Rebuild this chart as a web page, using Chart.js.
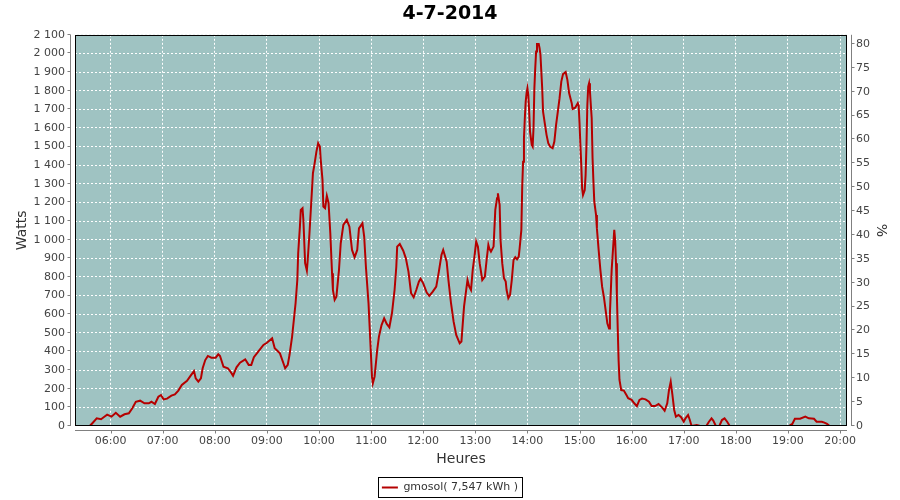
<!DOCTYPE html>
<html>
<head>
<meta charset="utf-8">
<title>4-7-2014</title>
<script src="https://cdn.jsdelivr.net/npm/chart.js@4.4.1/dist/chart.umd.min.js"></script>
<style>
  html, body { margin: 0; padding: 0; background: #fff; }
  #wrap { width: 900px; height: 500px; }
</style>
</head>
<body>
<div id="wrap"><canvas id="powerChart" width="900" height="500"></canvas></div>
<script>
// production du 4-7-2014, relevé (heure -> watts)
const sampleTimes = [
  '05:36','05:39','05:44','05:49','05:52','05:56','06:01','06:06','06:11','06:16',
  '06:21','06:25','06:29','06:34','06:39','06:44','06:47','06:51','06:55','06:58',
  '07:01','07:05','07:10','07:14','07:18','07:22','07:28','07:32','07:36','07:38',
  '07:41','07:44','07:46','07:49','07:52','07:56','08:01','08:04','08:06','08:10',
  '08:15','08:18','08:21','08:25','08:29','08:35','08:39','08:42','08:45','08:50',
  '08:56','09:00','09:06','09:09','09:12','09:15','09:19','09:21','09:24','09:26',
  '09:29','09:31','09:33','09:35','09:36','09:38','09:39','09:41','09:42','09:44',
  '09:46','09:47','09:49','09:51','09:53','09:55','09:57','09:59','10:01','10:02',
  '10:04','10:05','10:07','10:09','10:11','10:13','10:15','10:16','10:18','10:20',
  '10:23','10:25','10:28','10:32','10:35','10:38','10:41','10:44','10:46','10:50',
  '10:52','10:54','10:57','10:59','11:01','11:02','11:04','11:07','11:09','11:12',
  '11:15','11:18','11:21','11:24','11:27','11:29','11:30','11:33','11:37','11:40',
  '11:43','11:46','11:49','11:52','11:55','11:57','12:00','12:04','12:07','12:11',
  '12:15','12:18','12:21','12:23','12:27','12:29','12:32','12:35','12:38','12:42',
  '12:44','12:45','12:47','12:49','12:51','12:53','12:55','12:57','12:59','13:01',
  '13:03','13:05','13:08','13:11','13:13','13:15','13:16','13:18','13:21','13:23',
  '13:25','13:26','13:28','13:29','13:31','13:33','13:35','13:36','13:38','13:40',
  '13:42','13:44','13:46','13:48','13:50','13:51','13:53','13:54','13:55','13:56',
  '13:57','13:58','13:59','14:00','14:01','14:02','14:03','14:05','14:06','14:07',
  '14:08','14:09','14:10','14:11','14:13','14:14','14:15','14:16','14:17','14:18',
  '14:20','14:22','14:24','14:26','14:29','14:31','14:33','14:35','14:37','14:39',
  '14:41','14:44','14:46','14:48','14:51','14:52','14:55','14:58','14:59','15:00',
  '15:01','15:02','15:03','15:04','15:06','15:07','15:08','15:09','15:10','15:11',
  '15:12','15:14','15:15','15:16','15:17','15:19','15:20','15:22','15:24','15:26',
  '15:28','15:30','15:32','15:34','15:35','15:37','15:39','15:40','15:41','15:42',
  '15:43','15:44','15:45','15:46','15:48','15:51','15:54','15:56','16:00','16:03',
  '16:06','16:09','16:12','16:16','16:20','16:23','16:27','16:31','16:35','16:38',
  '16:41','16:43','16:45','16:47','16:49','16:51','16:54','16:57','17:00','17:02',
  '17:05','17:07','17:09','17:15','17:19','17:26','17:29','17:32','17:34','17:37',
  '17:41','17:44','17:47','17:50','17:53','19:01','19:05','19:08','19:14','19:20',
  '19:24','19:30','19:33','19:39','19:42','19:45','19:48','19:51'
];
const watts = [
  0, 15, 41, 36, 47, 61, 50, 71, 50, 63,
  68, 95, 130, 136, 122, 122, 130, 118, 157, 166,
  143, 147, 163, 170, 190, 220, 243, 269, 295, 256,
  238, 256, 310, 354, 376, 367, 367, 385, 376, 318,
  310, 292, 269, 315, 340, 358, 328, 328, 369, 399,
  435, 447, 471, 417, 404, 390, 337, 310, 328, 381,
  480, 569, 659, 784, 927, 1070, 1160, 1169, 1106, 874,
  834, 891, 1035, 1196, 1357, 1411, 1473, 1518, 1500, 1428,
  1321, 1178, 1169, 1235, 1196, 1035, 820, 730, 677, 694,
  838, 981, 1079, 1106, 1070, 945, 906, 945, 1061, 1088,
  1017, 855, 659, 462, 265, 229, 265, 408, 480, 542,
  578, 548, 530, 605, 730, 855, 963, 977, 941, 900,
  829, 713, 691, 730, 775, 791, 766, 716, 698, 721,
  748, 829, 918, 945, 882, 784, 659, 560, 489, 444,
  453, 516, 641, 713, 784, 748, 730, 838, 909, 990,
  963, 874, 784, 802, 891, 972, 954, 936, 963, 1160,
  1223, 1249, 1187, 999, 874, 793, 775, 730, 686, 703,
  784, 891, 906, 895, 909, 954, 1053, 1285, 1419, 1545,
  1652, 1741, 1787, 1813, 1777, 1688, 1580, 1509, 1500, 1598,
  1813, 1921, 2010, 2051, 2051, 2028, 1992, 1903, 1813, 1688,
  1625, 1563, 1518, 1500, 1491, 1527, 1616, 1688, 1760, 1849,
  1889, 1900, 1858, 1787, 1733, 1702, 1709, 1733, 1720, 1625,
  1509, 1402, 1276, 1240, 1267, 1348, 1509, 1724, 1822, 1840,
  1795, 1652, 1437, 1312, 1204, 1133, 1061, 945, 838, 748,
  694, 623, 551, 524, 605, 838, 981, 1053, 999, 874,
  700, 520, 350, 247, 193, 190, 166, 149, 140, 122,
  107, 140, 147, 143, 130, 107, 107, 118, 100, 82,
  122, 193, 238, 166, 86, 50, 59, 47, 23, 41,
  59, 32, 0, 5, 0, 0, 23, 41, 29, 0,
  0, 32, 41, 23, 0, 0, 11, 39, 39, 50,
  41, 39, 23, 23, 18, 11, 0, 0
];
const hourLabels = ['06:00','07:00','08:00','09:00','10:00','11:00','12:00','13:00','14:00','15:00','16:00','17:00','18:00','19:00','20:00'];
const xStart = '05:19';
const xEnd = '20:08';
const wattMax = 2100;
const percentMax = 81.9;
const seriesLabel = 'gmosol( 7,547 kWh )';

function toMinutes(s) {
  const p = s.split(':');
  return parseInt(p[0], 10) * 60 + parseInt(p[1], 10);
}
function toHour(m) {
  const h = Math.floor(m / 60), mm = Math.round(m % 60);
  return (h < 10 ? '0' : '') + h + ':' + (mm < 10 ? '0' : '') + mm;
}
function spaced(v) {
  return String(v).replace(/\B(?=(\d{3})+(?!\d))/g, ' ');
}

const points = sampleTimes.map((t, i) => ({ x: toMinutes(t), y: watts[i] }));
const hourTicks = hourLabels.map(toMinutes);

const FONT = "'DejaVu Sans', 'Liberation Sans', sans-serif";
const GREY = '#808080';

// fond du graphe, cadre noir et axes décalés façon JFreeChart
const plotFrame = {
  id: 'plotFrame',
  beforeDraw(chart) {
    const { ctx, chartArea: a } = chart;
    ctx.save();
    ctx.fillStyle = '#ffffff';
    ctx.fillRect(0, 0, chart.width, chart.height);
    ctx.fillStyle = '#9fc3c2';
    ctx.fillRect(a.left, a.top, a.right - a.left, a.bottom - a.top);
    ctx.restore();
  },
  afterDraw(chart) {
    const { ctx, chartArea: a, scales } = chart;
    ctx.save();
    ctx.lineWidth = 1;
    ctx.strokeStyle = '#000';
    ctx.strokeRect(Math.round(a.left) + 0.5, Math.round(a.top) + 0.5,
      Math.round(a.right - a.left) - 1, Math.round(a.bottom - a.top) - 1);

    ctx.strokeStyle = GREY;
    ctx.beginPath();
    const lx = Math.round(a.left) - 4.5;
    ctx.moveTo(lx, a.top); ctx.lineTo(lx, a.bottom);
    scales.y.ticks.forEach(t => {
      const py = Math.round(scales.y.getPixelForValue(t.value)) - 0.5;
      ctx.moveTo(lx - 3, py); ctx.lineTo(lx, py);
    });
    const rx = Math.round(a.right) + 4.5;
    ctx.moveTo(rx, a.top); ctx.lineTo(rx, a.bottom);
    scales.y2.ticks.forEach(t => {
      const py = Math.round(scales.y2.getPixelForValue(t.value)) - 0.5;
      ctx.moveTo(rx, py); ctx.lineTo(rx + 3, py);
    });
    const by = Math.round(a.bottom) + 4.5;
    ctx.moveTo(a.left, by); ctx.lineTo(a.right, by);
    scales.x.ticks.forEach(t => {
      const px = Math.round(scales.x.getPixelForValue(t.value)) + 0.5;
      ctx.moveTo(px, by); ctx.lineTo(px, by + 3);
    });
    ctx.stroke();

    // cadre de la légende
    const lg = chart.legend;
    if (lg && lg.legendHitBoxes && lg.legendHitBoxes.length) {
      const hb = lg.legendHitBoxes[0];
      ctx.strokeStyle = '#000';
      ctx.strokeRect(Math.round(hb.left) - 3.5, Math.round(hb.top) - 4.5,
        Math.round(hb.width) + 8, Math.round(hb.height) + 9);
    }
    ctx.restore();
  }
};

new Chart(document.getElementById('powerChart'), {
  type: 'line',
  data: {
    datasets: [{
      label: seriesLabel,
      data: points,
      borderColor: '#b50000',
      backgroundColor: '#b50000',
      borderWidth: 2,
      pointRadius: 0,
      tension: 0,
      fill: false,
      yAxisID: 'y'
    }]
  },
  options: {
    responsive: false,
    animation: false,
    events: [],
    layout: { padding: { left: 0, right: 0, top: 0, bottom: -3 } },
    plugins: {
      title: {
        display: true,
        text: '4-7-2014',
        color: '#000',
        font: { family: FONT, size: 19, weight: 'bold' },
        padding: { top: 3, bottom: 9 }
      },
      legend: {
        display: true,
        position: 'bottom',
        labels: {
          usePointStyle: true,
          pointStyle: 'line',
          pointStyleWidth: 16,
          color: '#333',
          font: { family: FONT, size: 11 },
          padding: 10
        }
      },
      tooltip: { enabled: false }
    },
    scales: {
      x: {
        type: 'linear',
        min: toMinutes(xStart),
        max: toMinutes(xEnd),
        afterBuildTicks: s => { s.ticks = hourTicks.map(v => ({ value: v })); },
        afterFit: s => { s.height = 46; },
        ticks: {
          color: '#444',
          font: { family: FONT, size: 11 },
          padding: 9,
          maxRotation: 0,
          autoSkip: false,
          callback: v => toHour(v)
        },
        grid: { color: '#ffffff', lineWidth: 1, drawTicks: false },
        border: { display: false, dash: [2, 2] },
        title: {
          display: true,
          text: 'Heures',
          color: '#333',
          font: { family: FONT, size: 14 },
          padding: { top: 0, bottom: 4 }
        }
      },
      y: {
        position: 'left',
        min: 0,
        max: wattMax,
        afterFit: s => { s.width = 75; },
        ticks: {
          stepSize: 100,
          color: '#444',
          font: { family: FONT, size: 11 },
          padding: 10,
          callback: v => spaced(v)
        },
        grid: { color: '#ffffff', lineWidth: 1, drawTicks: false },
        border: { display: false, dash: [2, 2] },
        title: {
          display: true,
          text: 'Watts',
          color: '#333',
          font: { family: FONT, size: 14 },
          padding: { top: 14, bottom: 0 }
        }
      },
      y2: {
        position: 'right',
        min: 0,
        max: percentMax,
        afterFit: s => { s.width = 53; },
        ticks: {
          stepSize: 5,
          includeBounds: false,
          color: '#444',
          font: { family: FONT, size: 11 },
          padding: 9
        },
        grid: { display: false, drawTicks: false },
        border: { display: false },
        title: {
          display: true,
          text: '%',
          color: '#333',
          font: { family: FONT, size: 14 },
          padding: { top: 11, bottom: 0 }
        }
      }
    }
  },
  plugins: [plotFrame]
});
</script>
</body>
</html>
